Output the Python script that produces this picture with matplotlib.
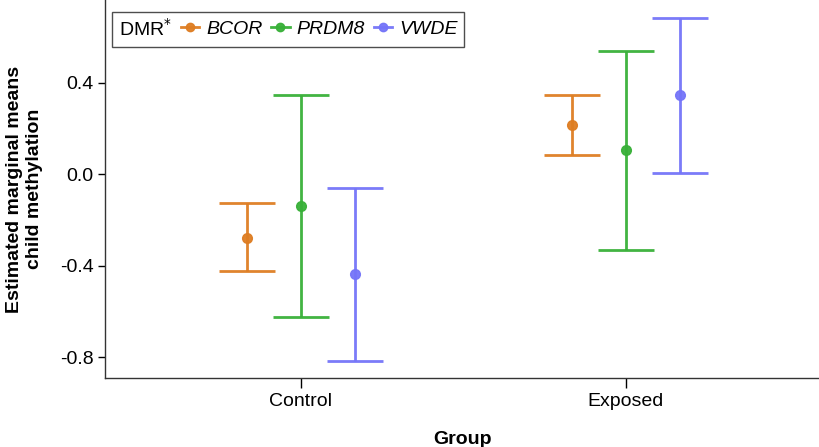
import numpy as np
import matplotlib.pyplot as plt
from matplotlib.lines import Line2D
from matplotlib.offsetbox import HPacker

plt.rcParams['font.family'] = ['Liberation Sans', 'DejaVu Sans']

groups = ['Control', 'Exposed']
dmrs = ['BCOR', 'PRDM8', 'VWDE']
colors = ['#DE7D22', '#38B038', '#7474F8']

# estimated means and 95% CI per DMR (Control, Exposed)
means = {'BCOR': [-0.277, 0.216], 'PRDM8': [-0.137, 0.106], 'VWDE': [-0.437, 0.346]}
lower = {'BCOR': [-0.422, 0.083], 'PRDM8': [-0.624, -0.329], 'VWDE': [-0.816, 0.007]}
upper = {'BCOR': [-0.127, 0.349], 'PRDM8': [0.347, 0.541], 'VWDE': [-0.059, 0.686]}

yticks = [-0.8, -0.4, 0.0, 0.4]
yticklabels = ['-0.8', '-0.4', '0.0', '0.4']

fig = plt.figure(figsize=(8.2, 4.47), dpi=100)
ax = fig.add_axes([0.128, 0.154, 0.872, 0.846])

x = np.arange(len(groups))
dodge = 0.166
handles = []
for i, d in enumerate(dmrs):
    xs = x + (i - 1) * dodge
    m = np.array(means[d])
    lo = m - np.array(lower[d])
    hi = np.array(upper[d]) - m
    ax.errorbar(xs, m, yerr=[lo, hi], fmt='o', color=colors[i], ms=7,
                elinewidth=2, capsize=20, capthick=2, alpha=0.95)
    handles.append(Line2D([], [], color=colors[i], marker='o', ms=6, lw=2,
                          alpha=0.95, label=d))

ax.set_xlim(-0.603, 1.597)
ax.set_ylim(-0.892, 0.763)
ax.set_xticks(x)
ax.set_xticklabels(groups, fontsize=14)
ax.set_yticks(yticks)
ax.set_yticklabels(yticklabels, fontsize=14)
ax.tick_params(axis='x', length=7, width=1, pad=4)
ax.tick_params(axis='y', length=5, width=1, pad=3)
for s in ['top', 'right']:
    ax.spines[s].set_visible(False)
for s in ['left', 'bottom']:
    ax.spines[s].set_linewidth(1)
    ax.spines[s].set_color('#333333')

ax.set_xlabel('Group', fontsize=14, fontweight='bold', labelpad=15)
ax.set_ylabel('Estimated marginal means\nchild methylation', fontsize=14,
              fontweight='bold', labelpad=12, linespacing=1.3)

leg = ax.legend(handles=handles, ncol=3, loc='upper left',
                bbox_to_anchor=(0.002, 0.985), frameon=True, fancybox=False,
                edgecolor='#222222', fontsize=14, title='DMR$^{*}$',
                title_fontsize=14, handlelength=0.95, handletextpad=0.35,
                columnspacing=0.45, borderpad=0.35, borderaxespad=0.3)
for t in leg.get_texts():
    t.set_fontstyle('italic')
leg.get_frame().set_linewidth(1)
try:
    box = HPacker(pad=leg.borderpad * leg._fontsize, sep=0.45 * leg._fontsize,
                  align='center',
                  children=[leg._legend_title_box, leg._legend_handle_box])
    box.set_figure(fig)
    box.set_offset(leg._findoffset)
    leg._legend_box = box
except Exception:
    pass

fig.savefig('out.png', dpi=100)
